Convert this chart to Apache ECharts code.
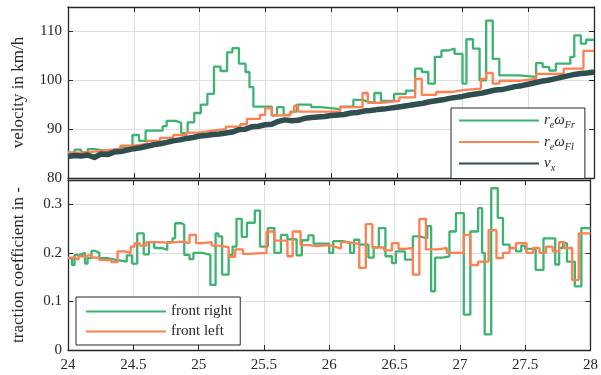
<!DOCTYPE html>
<html><head><meta charset="utf-8">
<script src="https://cdn.jsdelivr.net/npm/echarts@6/dist/echarts.min.js"></script>
<style>html,body{margin:0;padding:0;background:#fff}#c{width:601px;height:375px}</style>
</head><body><div id="c"></div>
<script>
// ---- velocity (top) ----
const vxSpeed = [84.4,84.6,84.5,84.7,84.2,84.9,84.8,85.3,85.4,85.7,
  86.0,86.2,86.5,86.8,87.0,87.3,87.6,87.8,88.1,88.3,
  88.6,88.7,88.9,89.0,89.2,89.4,89.9,90.0,90.5,90.6,
  90.9,91.0,91.6,91.9,91.7,91.8,92.2,92.4,92.5,92.6,
  92.8,92.9,93.0,93.3,93.4,93.7,93.8,94.0,94.1,94.3,
  94.5,94.7,94.9,95.1,95.3,95.6,95.8,96.0,96.3,96.5,
  96.7,97.0,97.2,97.4,97.7,98.0,98.1,98.4,98.7,98.9,
  99.2,99.5,99.8,100.0,100.3,100.6,100.9,101.2,101.4,101.5,101.7];
const vxTime = vxSpeed.map((_, i) => 24 + i * 0.05);

const wFrTime = [24.00,24.05,24.10,24.15,24.20,24.30,24.40,24.49,24.54,24.59,24.72,24.75,24.82,24.86,24.91,24.96,25.01,25.06,25.11,25.16,25.21,25.25,25.30,25.35,25.38,25.41,25.55,25.59,25.64,25.69,25.74,25.85,25.92,26.07,26.17,26.24,26.29,26.33,26.38,26.48,26.57,26.64,26.69,26.74,26.79,26.84,26.89,26.94,27.00,27.03,27.08,27.13,27.18,27.23,27.28,27.43,27.56,27.61,27.66,27.71,27.82,27.85,27.90,27.94,28.00];
const wFrSpeed = [85.2,85.8,85.3,85.9,85.5,85.8,86.4,88.8,87.6,89.7,90.6,91.7,91.3,89.2,91.4,93.3,95.0,97.2,102.8,101.9,105.7,106.6,103.4,101.7,98.6,94.6,92.8,94.5,92.9,93.6,95.0,94.5,94.1,94.6,96.0,95.6,95.4,97.4,95.8,97.2,97.9,102.4,101.7,99.3,104.8,106.1,106.5,105.4,99.3,108.4,106.5,100.0,112.2,104.4,101.0,100.7,103.5,102.7,102.0,103.4,104.8,109.2,107.5,108.3,108.3];

const wFlTime = [24.00,24.10,24.20,24.30,24.40,24.50,24.60,24.70,24.80,24.90,25.00,25.10,25.20,25.31,25.36,25.46,25.50,25.55,25.69,25.72,25.75,26.07,26.24,26.28,26.38,26.52,26.64,26.69,26.80,26.92,27.00,27.14,27.18,27.23,27.28,27.43,27.56,27.77,27.92,28.00];
const wFlSpeed = [85.2,85.4,85.7,86.0,86.6,87.0,87.6,88.2,88.8,89.3,89.7,90.0,90.5,91.0,92.1,92.9,94.3,92.8,93.5,94.8,93.6,94.5,97.4,95.4,95.8,96.5,100.3,97.0,97.6,98.0,98.3,100.3,101.5,99.3,99.9,100.3,101.3,102.4,106.0,106.0];

// ---- traction coefficient (bottom) ----
const muFrTime = [24.00,24.03,24.05,24.09,24.13,24.15,24.18,24.21,24.24,24.30,
  24.38,24.45,24.49,24.53,24.58,24.62,24.66,24.72,24.76,24.80,
  24.82,24.87,24.89,24.93,24.96,25.03,25.09,25.13,25.15,25.18,
  25.23,25.26,25.29,25.33,25.37,25.43,25.47,25.53,25.58,25.63,
  25.68,25.75,25.79,25.84,25.88,26.00,26.03,26.11,26.16,26.19,
  26.23,26.30,26.34,26.38,26.43,26.48,26.51,26.58,26.64,26.69,
  26.75,26.78,26.81,26.87,26.92,26.97,27.03,27.08,27.14,27.17,
  27.19,27.24,27.29,27.33,27.38,27.43,27.47,27.50,27.58,27.64,
  27.73,27.76,27.79,27.82,27.88,27.93,28.00];
const muFr = [0.189,0.175,0.196,0.200,0.178,0.189,0.204,0.200,0.189,0.185,
  0.182,0.195,0.178,0.240,0.197,0.222,0.210,0.206,0.222,0.230,
  0.261,0.258,0.196,0.187,0.200,0.196,0.134,0.240,0.234,0.155,
  0.196,0.213,0.270,0.233,0.262,0.287,0.213,0.251,0.200,0.237,
  0.228,0.195,0.226,0.236,0.219,0.200,0.224,0.220,0.200,0.227,
  0.217,0.190,0.212,0.251,0.193,0.179,0.203,0.186,0.234,0.230,
  0.255,0.121,0.190,0.193,0.244,0.282,0.073,0.244,0.292,0.200,
  0.032,0.333,0.272,0.217,0.210,0.203,0.215,0.208,0.165,0.230,
  0.176,0.210,0.220,0.182,0.131,0.251,0.251];

const muFlTime = [24.00,24.05,24.08,24.13,24.18,24.24,24.30,24.33,24.38,24.43,
  24.48,24.51,24.55,24.60,24.68,24.78,24.88,24.93,24.98,25.03,
  25.10,25.15,25.23,25.28,25.34,25.38,25.52,25.58,25.68,25.72,
  25.78,25.84,25.90,26.00,26.04,26.09,26.15,26.23,26.28,26.33,
  26.42,26.48,26.53,26.58,26.64,26.69,26.74,26.83,26.90,27.03,
  27.08,27.14,27.22,27.28,27.33,27.38,27.43,27.51,27.56,27.61,
  27.66,27.71,27.76,27.80,27.86,27.91,28.00];
const muFl = [0.190,0.186,0.193,0.196,0.190,0.185,0.186,0.181,0.203,0.200,
  0.213,0.220,0.215,0.222,0.221,0.223,0.220,0.237,0.220,0.222,
  0.215,0.212,0.192,0.207,0.198,0.200,0.244,0.225,0.193,0.244,
  0.216,0.214,0.216,0.213,0.209,0.222,0.218,0.169,0.259,0.211,
  0.205,0.220,0.208,0.210,0.155,0.270,0.207,0.210,0.200,0.237,
  0.175,0.182,0.247,0.189,0.200,0.210,0.220,0.200,0.210,0.200,
  0.213,0.203,0.222,0.210,0.144,0.240,0.240];

const timeRange = [24, 28, 0.5];
const velRange = [80, 115, 10];
const muRange = [0, 0.35, 0.1];
const velLabel = 'velocity in km/h';
const muLabel = 'traction coefficient in -';
const legendTop = ['wFr', 'wFl', 'vx'];
const legendBottom = ['front right', 'front left'];

const GREEN = '#3CB371', ORANGE = '#FF7F50', DARK = '#2F4F4F', AX = '#262626';
const FONT = 'Liberation Serif';
const zip = (a, b) => a.map((t, i) => [t, b[i]]);

function xAx(grid, pos, labels) {
  return {type: 'value', gridIndex: grid, position: pos, min: timeRange[0], max: timeRange[1], interval: timeRange[2],
    axisLine: {show: true, onZero: false, lineStyle: {color: AX, width: 1.3}},
    axisTick: {show: true, inside: true, length: 5, lineStyle: {color: AX}},
    axisLabel: {show: labels, color: AX, fontFamily: FONT, fontSize: 15, margin: 8},
    splitLine: {show: pos === 'bottom', lineStyle: {color: '#dfdfdf', width: 1}}};
}
function yAx(grid, pos, r, name) {
  return {type: 'value', gridIndex: grid, position: pos, min: r[0], max: r[1], interval: r[2],
    name: name || '', nameLocation: 'middle', nameGap: 41,
    nameTextStyle: {color: AX, fontFamily: FONT, fontSize: 17},
    axisLine: {show: true, onZero: false, lineStyle: {color: AX, width: 1.3}},
    axisTick: {show: true, inside: true, length: 5, lineStyle: {color: AX}},
    axisLabel: {show: pos === 'left', color: AX, fontFamily: FONT, fontSize: 15, margin: 6, showMaxLabel: false},
    splitLine: {show: pos === 'left', lineStyle: {color: '#dfdfdf', width: 1}}};
}
const richMath = {
  i: {fontFamily: FONT, fontStyle: 'italic', fontSize: 15, lineHeight: 20, color: AX},
  s: {fontFamily: FONT, fontStyle: 'italic', fontSize: 10, lineHeight: 11, verticalAlign: 'bottom', color: AX}
};
const mathNames = {wFr: '{i|r}{s|e}{i|ω}{s|Fr}', wFl: '{i|r}{s|e}{i|ω}{s|Fl}', vx: '{i|v}{s|x}'};

const chart = echarts.init(document.getElementById('c'), null, {renderer: 'canvas'});
chart.setOption({
  backgroundColor: '#fff',
  animation: false,
  grid: [
    {left: 68, right: 7, top: 7, height: 171},
    {left: 68, right: 7, top: 180, height: 170}
  ],
  xAxis: [xAx(0, 'bottom', false), xAx(0, 'top', false), xAx(1, 'bottom', true), xAx(1, 'top', false)],
  yAxis: [yAx(0, 'left', velRange, velLabel), yAx(0, 'right', velRange), yAx(1, 'left', muRange, muLabel), yAx(1, 'right', muRange)],
  legend: [
    {data: legendTop, orient: 'vertical', left: 451, top: 108, itemWidth: 80, itemHeight: 14, itemGap: 4,
     padding: [5, 10, 5, 7], backgroundColor: '#fff', borderColor: AX, borderWidth: 1, borderRadius: 0,
     itemStyle: {opacity: 0}, formatter: n => mathNames[n], textStyle: {rich: richMath}},
    {data: legendBottom, orient: 'vertical', left: 76, top: 297, itemWidth: 80, itemHeight: 14, itemGap: 5,
     padding: [7, 8, 6, 9], backgroundColor: '#fff', borderColor: AX, borderWidth: 1, borderRadius: 0,
     itemStyle: {opacity: 0}, textStyle: {color: AX, fontFamily: FONT, fontSize: 15}}
  ],
  series: [
    {name: 'wFr', type: 'line', step: 'end', xAxisIndex: 0, yAxisIndex: 0, data: zip(wFrTime, wFrSpeed), symbol: 'none',
     lineStyle: {color: GREEN, width: 2.3}, itemStyle: {color: GREEN}},
    {name: 'wFl', type: 'line', step: 'end', xAxisIndex: 0, yAxisIndex: 0, data: zip(wFlTime, wFlSpeed), symbol: 'none',
     lineStyle: {color: ORANGE, width: 2.3}, itemStyle: {color: ORANGE}},
    {name: 'vx', type: 'line', xAxisIndex: 0, yAxisIndex: 0, data: zip(vxTime, vxSpeed), symbol: 'none',
     lineStyle: {color: DARK, width: 5.5, join: 'round'}, itemStyle: {color: DARK}},
    {name: 'front right', type: 'line', step: 'end', xAxisIndex: 2, yAxisIndex: 2, data: zip(muFrTime, muFr), symbol: 'none',
     lineStyle: {color: GREEN, width: 2.3}, itemStyle: {color: GREEN}},
    {name: 'front left', type: 'line', step: 'end', xAxisIndex: 2, yAxisIndex: 2, data: zip(muFlTime, muFl), symbol: 'none',
     lineStyle: {color: ORANGE, width: 2.3}, itemStyle: {color: ORANGE}}
  ]
});
</script>
</body></html>
